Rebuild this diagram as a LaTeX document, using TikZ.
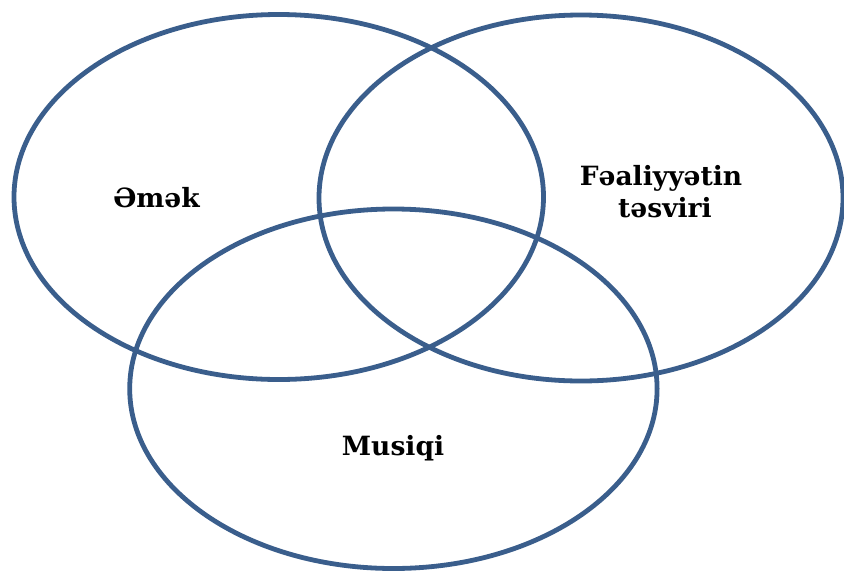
\documentclass[tikz,border=0pt]{standalone}
\usepackage{fontspec}
\setmainfont{DejaVu Serif}
\usetikzlibrary{shapes.geometric}
\definecolor{ringblue}{RGB}{58,94,140}
\tikzset{
  ring/.style={ellipse, draw=ringblue, line width=4.8pt, inner sep=0pt, outer sep=0pt},
  lbl/.style={font=\fontsize{26.5}{32}\selectfont\bfseries, inner sep=0pt, anchor=base, text=black}
}
\begin{document}
\begin{tikzpicture}[x=1pt,y=-1pt]
\useasboundingbox (0,0) rectangle (844,571);
\node[ring, minimum width=529.5pt, minimum height=365pt] (left) at (278.75,197) {};
\node[ring, minimum width=524pt, minimum height=366pt] (right) at (581,198) {};
\node[ring, minimum width=527.4pt, minimum height=359.5pt] (bottom) at (393.4,388.75) {};
\node[lbl] (emek) at (156.5,207) {Əmək};
\node[lbl] (fa1) at (661,185) {Fəaliyyətin};
\node[lbl] (fa2) at (665,217) {təsviri};
\node[lbl] (mus) at (393,455) {Musiqi};
\end{tikzpicture}
\end{document}
